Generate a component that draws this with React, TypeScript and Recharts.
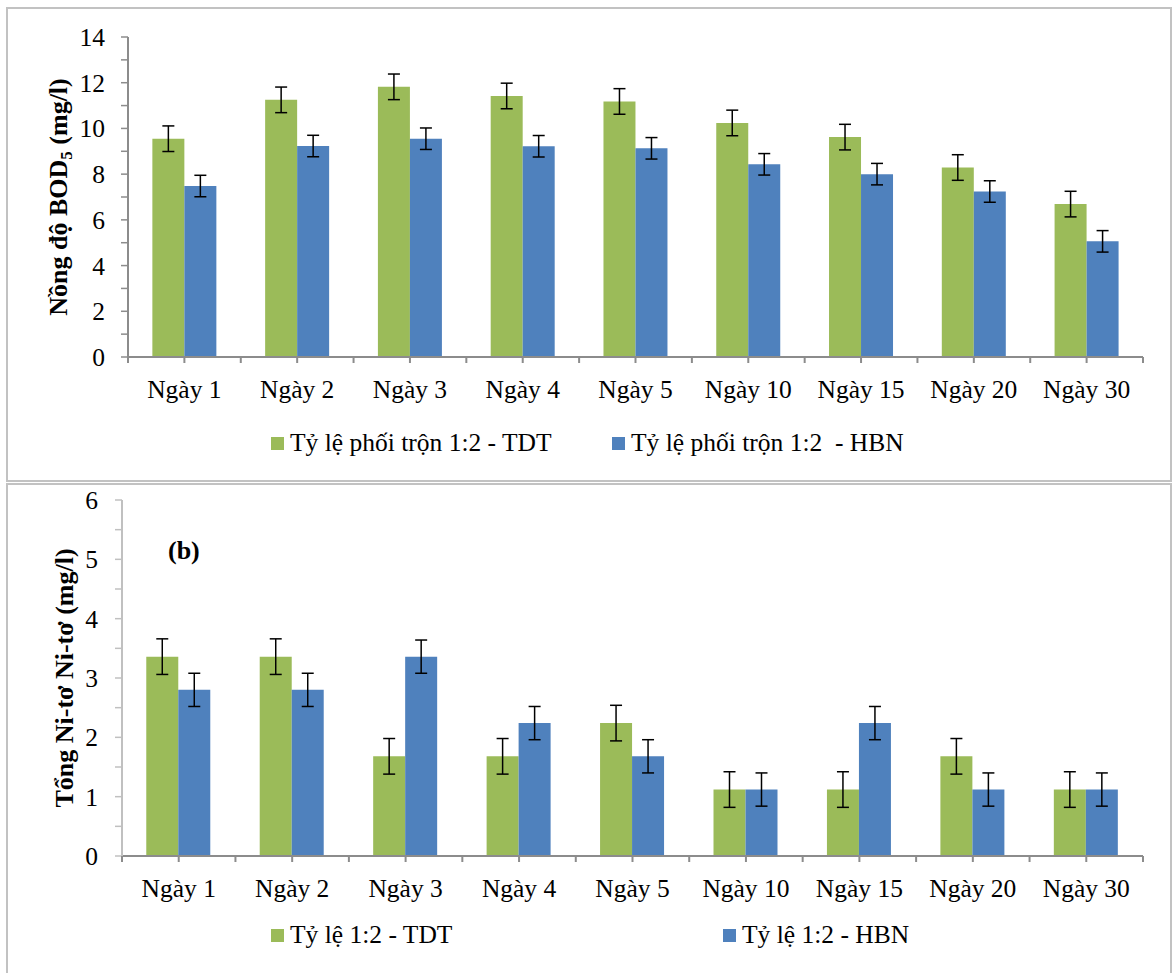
import React from 'react';
import { BarChart, Bar, XAxis, YAxis, ErrorBar, Legend, Label } from 'recharts';

const days = ['Ngày 1', 'Ngày 2', 'Ngày 3', 'Ngày 4', 'Ngày 5', 'Ngày 10', 'Ngày 15', 'Ngày 20', 'Ngày 30'];

// (a) BOD5, mg/l
const bodTDT = [9.55, 11.25, 11.82, 11.42, 11.18, 10.24, 9.62, 8.29, 6.69];
const bodHBN = [7.48, 9.23, 9.55, 9.22, 9.13, 8.43, 8.0, 7.24, 5.06];
const bodErrTDT = [0.56, 0.56, 0.56, 0.56, 0.56, 0.56, 0.56, 0.56, 0.56];
const bodErrHBN = [0.47, 0.47, 0.47, 0.47, 0.47, 0.47, 0.47, 0.47, 0.47];
const bodTicks = [0, 1, 2, 3, 4, 5, 6, 7, 8, 9, 10, 11, 12, 13, 14];

// (b) tổng ni-tơ, mg/l
const nTDT = [3.36, 3.36, 1.68, 1.68, 2.24, 1.12, 1.12, 1.68, 1.12];
const nHBN = [2.8, 2.8, 3.36, 2.24, 1.68, 1.12, 2.24, 1.12, 1.12];
const nErrTDT = [0.3, 0.3, 0.3, 0.3, 0.3, 0.3, 0.3, 0.3, 0.3];
const nErrHBN = [0.28, 0.28, 0.28, 0.28, 0.28, 0.28, 0.28, 0.28, 0.28];
const nTicks = [0, 0.5, 1, 1.5, 2, 2.5, 3, 3.5, 4, 4.5, 5, 5.5, 6];

const seriesOrder = ['tdt', 'hbn'];

const GREEN = '#9bbb59';
const BLUE = '#4f81bd';
const AXIS = '#8c8c8c';
const FONT = "'Liberation Serif', 'Times New Roman', serif";
const FS = 25.5;

const bodData = days.map((d, i) => ({
  day: d,
  tdt: bodTDT[i],
  hbn: bodHBN[i],
  errTdt: bodErrTDT[i],
  errHbn: bodErrHBN[i],
}));

const nData = days.map((d, i) => ({
  day: d,
  tdt: nTDT[i],
  hbn: nHBN[i],
  errTdt: nErrTDT[i],
  errHbn: nErrHBN[i],
}));

// category tick: mark at the centre and at the band edges, label below
function makeXTick(half: number, color: string) {
  return (props: any) => {
    const { x, y, payload, index } = props;
    return (
      <g>
        <line x1={x} x2={x} y1={y} y2={y + 6} stroke={color} strokeWidth={2} />
        <line x1={x - half} x2={x - half} y1={y} y2={y + 6} stroke={color} strokeWidth={2} />
        {index === days.length - 1 && (
          <line x1={x + half} x2={x + half} y1={y} y2={y + 6} stroke={color} strokeWidth={2} />
        )}
        <text x={x} y={y + 23} dy="0.71em" textAnchor="middle" fill="#000" fontSize={FS} fontFamily={FONT}>
          {payload.value}
        </text>
      </g>
    );
  };
}

function makeLegend(lefts: number[]) {
  return (props: any) => {
    const items = [...(props.payload || [])].sort(
      (a: any, b: any) => seriesOrder.indexOf(a.dataKey) - seriesOrder.indexOf(b.dataKey)
    );
    return (
      <div style={{ position: 'relative', height: 30, fontFamily: FONT, fontSize: FS, color: '#000' }}>
        {items.map((p: any, i: number) => (
          <div
            key={p.value}
            style={{ position: 'absolute', left: lefts[i], top: 0, display: 'flex', alignItems: 'center', whiteSpace: 'pre' }}
          >
            <span style={{ display: 'inline-block', width: 13, height: 13, background: p.color, marginRight: 6 }} />
            <span>{p.value}</span>
          </div>
        ))}
      </div>
    );
  };
}

function yTitle(textX: number, render: (x: number, y: number) => React.ReactNode) {
  return (props: any) => {
    const vb = props.viewBox || {};
    const cy = (vb.y ?? 0) + (vb.height ?? 0) / 2;
    return render(textX, cy);
  };
}

export default function App() {
  return (
    <div style={{ position: 'relative', width: 1172, height: 973, overflow: 'hidden', background: '#fff', fontFamily: FONT }}>
      <style>{'body{margin:0}'}</style>
      <div
        style={{ position: 'absolute', left: 6, top: 7, width: 1166, height: 475, border: '2px solid #c2c2c2', boxSizing: 'border-box' }}
      />
      <div
        style={{ position: 'absolute', left: 6, top: 483, width: 1166, height: 520, border: '2px solid #c2c2c2', boxSizing: 'border-box' }}
      />

      <div style={{ position: 'absolute', left: 0, top: 0 }}>
        <BarChart
          width={1172}
          height={480}
          data={bodData}
          margin={{ top: 37, right: 29, left: 0, bottom: 83 }}
          barCategoryGap="21.6%"
          barGap={0}
        >
          <XAxis
            dataKey="day"
            height={40}
            interval={0}
            axisLine={{ stroke: AXIS, strokeWidth: 2 }}
            tickLine={false}
            tickSize={0}
            tickMargin={0}
            tick={makeXTick(1015 / 9 / 2, AXIS)}
          />
          <YAxis
            width={128}
            domain={[0, 14]}
            ticks={bodTicks}
            interval={0}
            axisLine={{ stroke: AXIS, strokeWidth: 2 }}
            tickLine={{ stroke: AXIS, strokeWidth: 1.5 }}
            tickSize={7}
            tickMargin={16}
            tickFormatter={(v: number) => (v % 2 === 0 ? String(v) : '')}
            tick={{ fill: '#000', fontSize: FS, fontFamily: FONT }}
          >
            <Label
              content={yTitle(67, (x, y) => (
                <text
                  transform={`translate(${x},${y}) rotate(-90)`}
                  textAnchor="middle"
                  fontFamily={FONT}
                  fontSize={26}
                  fontWeight="bold"
                  fill="#000"
                >
                  Nồng độ BOD<tspan fontSize={17} dy={5}>5</tspan>
                  <tspan dy={-5}> (mg/l)</tspan>
                </text>
              ))}
            />
          </YAxis>
          <Bar dataKey="tdt" name="Tỷ lệ phối trộn 1:2 - TDT" fill={GREEN} isAnimationActive={false}>
            <ErrorBar dataKey="errTdt" width={6} stroke="#000" strokeWidth={1.5} direction="y" />
          </Bar>
          <Bar dataKey="hbn" name="Tỷ lệ phối trộn 1:2  - HBN" fill={BLUE} isAnimationActive={false}>
            <ErrorBar dataKey="errHbn" width={6} stroke="#000" strokeWidth={1.5} direction="y" />
          </Bar>
          <Legend
            layout="horizontal"
            verticalAlign="middle"
            align="center"
            wrapperStyle={{ top: 428, left: 0, width: 1172, height: 30 }}
            content={makeLegend([271, 612])}
          />
        </BarChart>
      </div>

      <div style={{ position: 'absolute', left: 0, top: 480 }}>
        <BarChart
          width={1172}
          height={493}
          data={nData}
          margin={{ top: 20, right: 29, left: 0, bottom: 77 }}
          barCategoryGap="21.4%"
          barGap={0}
        >
          <XAxis
            dataKey="day"
            height={40}
            interval={0}
            axisLine={{ stroke: AXIS, strokeWidth: 2 }}
            tickLine={false}
            tickSize={0}
            tickMargin={0}
            tick={makeXTick(1021 / 9 / 2, AXIS)}
          />
          <YAxis
            width={122}
            domain={[0, 6]}
            ticks={nTicks}
            interval={0}
            axisLine={{ stroke: '#c0c0c0', strokeWidth: 2 }}
            tickLine={{ stroke: '#c0c0c0', strokeWidth: 1.5 }}
            tickSize={7}
            tickMargin={17}
            tickFormatter={(v: number) => (Number.isInteger(v) ? String(v) : '')}
            tick={{ fill: '#000', fontSize: FS, fontFamily: FONT }}
          >
            <Label
              content={yTitle(73, (x, y) => (
                <text
                  transform={`translate(${x},${y}) rotate(-90)`}
                  textAnchor="middle"
                  fontFamily={FONT}
                  fontSize={26}
                  fontWeight="bold"
                  fill="#000"
                >
                  Tổng Ni-tơ Ni-tơ (mg/l)
                </text>
              ))}
            />
          </YAxis>
          <Bar dataKey="tdt" name="Tỷ lệ 1:2 - TDT" fill={GREEN} isAnimationActive={false}>
            <ErrorBar dataKey="errTdt" width={6} stroke="#000" strokeWidth={1.5} direction="y" />
          </Bar>
          <Bar dataKey="hbn" name="Tỷ lệ 1:2 - HBN" fill={BLUE} isAnimationActive={false}>
            <ErrorBar dataKey="errHbn" width={6} stroke="#000" strokeWidth={1.5} direction="y" />
          </Bar>
          <Legend
            layout="horizontal"
            verticalAlign="middle"
            align="center"
            wrapperStyle={{ top: 440, left: 0, width: 1172, height: 30 }}
            content={makeLegend([271, 723])}
          />
        </BarChart>
        <div style={{ position: 'absolute', left: 168, top: 56, fontFamily: FONT, fontSize: 26, fontWeight: 'bold', lineHeight: 'normal' }}>
          (b)
        </div>
      </div>
    </div>
  );
}
